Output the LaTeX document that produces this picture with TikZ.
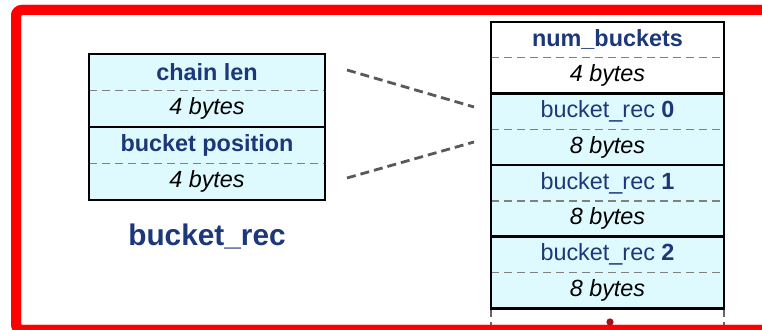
\documentclass[tikz,border=0pt]{standalone}
\usepackage{fontspec}
\setmainfont{Liberation Sans}
\usetikzlibrary{positioning}

\definecolor{recblue}{RGB}{28,56,122}
\definecolor{recfill}{RGB}{222,250,255}
\definecolor{framered}{RGB}{255,0,0}
\definecolor{dotred}{RGB}{160,20,20}

\tikzset{
	cell/.style={inner sep=0pt,outer sep=0pt},
	leftcell/.style={cell,minimum width=118pt,minimum height=18.25pt},
	rightcell/.style={cell,minimum width=116.5pt,minimum height=17.9pt},
	namecell/.style={text=recblue,font=\fontsize{11.7}{14}\selectfont\bfseries},
	reccell/.style={text=recblue,font=\fontsize{11.7}{14}\selectfont},
	sizecell/.style={text=black,font=\fontsize{11.7}{14}\selectfont\itshape},
	sepline/.style={gray,line width=0.6pt,dash pattern=on 4pt off 2.5pt},
	blockline/.style={black,line width=1.3pt},
	linkline/.style={black!65,line width=1.4pt,dash pattern=on 4.5pt off 2.5pt},
	tickline/.style={black!60,line width=1pt},
	frame/.style={framered,line width=5pt,rounded corners=3pt}
}

\begin{document}
\begin{tikzpicture}[x=0.5pt,y=-0.5pt]
	\useasboundingbox (0,0) rectangle (762,330);
	% outer frame
	\draw[frame] (16,10) rectangle (790,330);

	% bucket_rec layout
	\node[leftcell,namecell,fill=recfill] (chainname) at (207,72.25) {chain len};
	\node[leftcell,sizecell,fill=recfill,below=0pt of chainname] (chainsize) {4 bytes};
	\node[leftcell,namecell,fill=recfill,below=0pt of chainsize] (posname) {bucket position};
	\node[leftcell,sizecell,fill=recfill,below=0pt of posname] (possize) {4 bytes};
	\foreach \a/\b in {chainname/chainsize,posname/possize}{
		\draw[sepline] (\a.south west) -- (\a.south east);
		\draw[blockline] (\a.north west) rectangle (\b.south east);
	}
	\node[namecell,font=\fontsize{14.9}{18}\selectfont\bfseries] (rectitle) at (207,237) {bucket\_rec};

	% bucket table
	\node[rightcell,namecell,fill=white] (numname) at (607.5,39.9) {num\_buckets};
	\node[rightcell,sizecell,fill=white,below=0pt of numname] (numsize) {4 bytes};
	\foreach \i/\prev in {0/numsize,1/size0,2/size1}{
		\node[rightcell,reccell,fill=recfill,below=0pt of \prev] (name\i) {bucket\_rec \textbf{\i}};
		\node[rightcell,sizecell,fill=recfill,below=0pt of name\i] (size\i) {8 bytes};
	}
	\foreach \a/\b in {numname/numsize,name0/size0,name1/size1,name2/size2}{
		\draw[sepline] (\a.south west) -- (\a.south east);
		\draw[blockline] (\a.north west) rectangle (\b.south east);
	}

	% table goes on below
	\foreach \c in {size2.south west,size2.south east}{
		\draw[tickline] (\c) ++(0,2) -- ++(0,7);
		\draw[tickline] (\c) ++(0,14) -- ++(0,8);
	}
	\fill[dotred] (610,322) circle (1.8pt);

	% dashed links
	\coordinate (linkfromtop) at (347,70);
	\coordinate (linktotop) at (474,107);
	\coordinate (linkfrombot) at (347,178);
	\coordinate (linktobot) at (474,142);
	\draw[linkline] (linkfromtop) -- (linktotop);
	\draw[linkline] (linkfrombot) -- (linktobot);

	% frame again on top of the table end
	\draw[frame] (16,10) rectangle (790,330);
\end{tikzpicture}
\end{document}
